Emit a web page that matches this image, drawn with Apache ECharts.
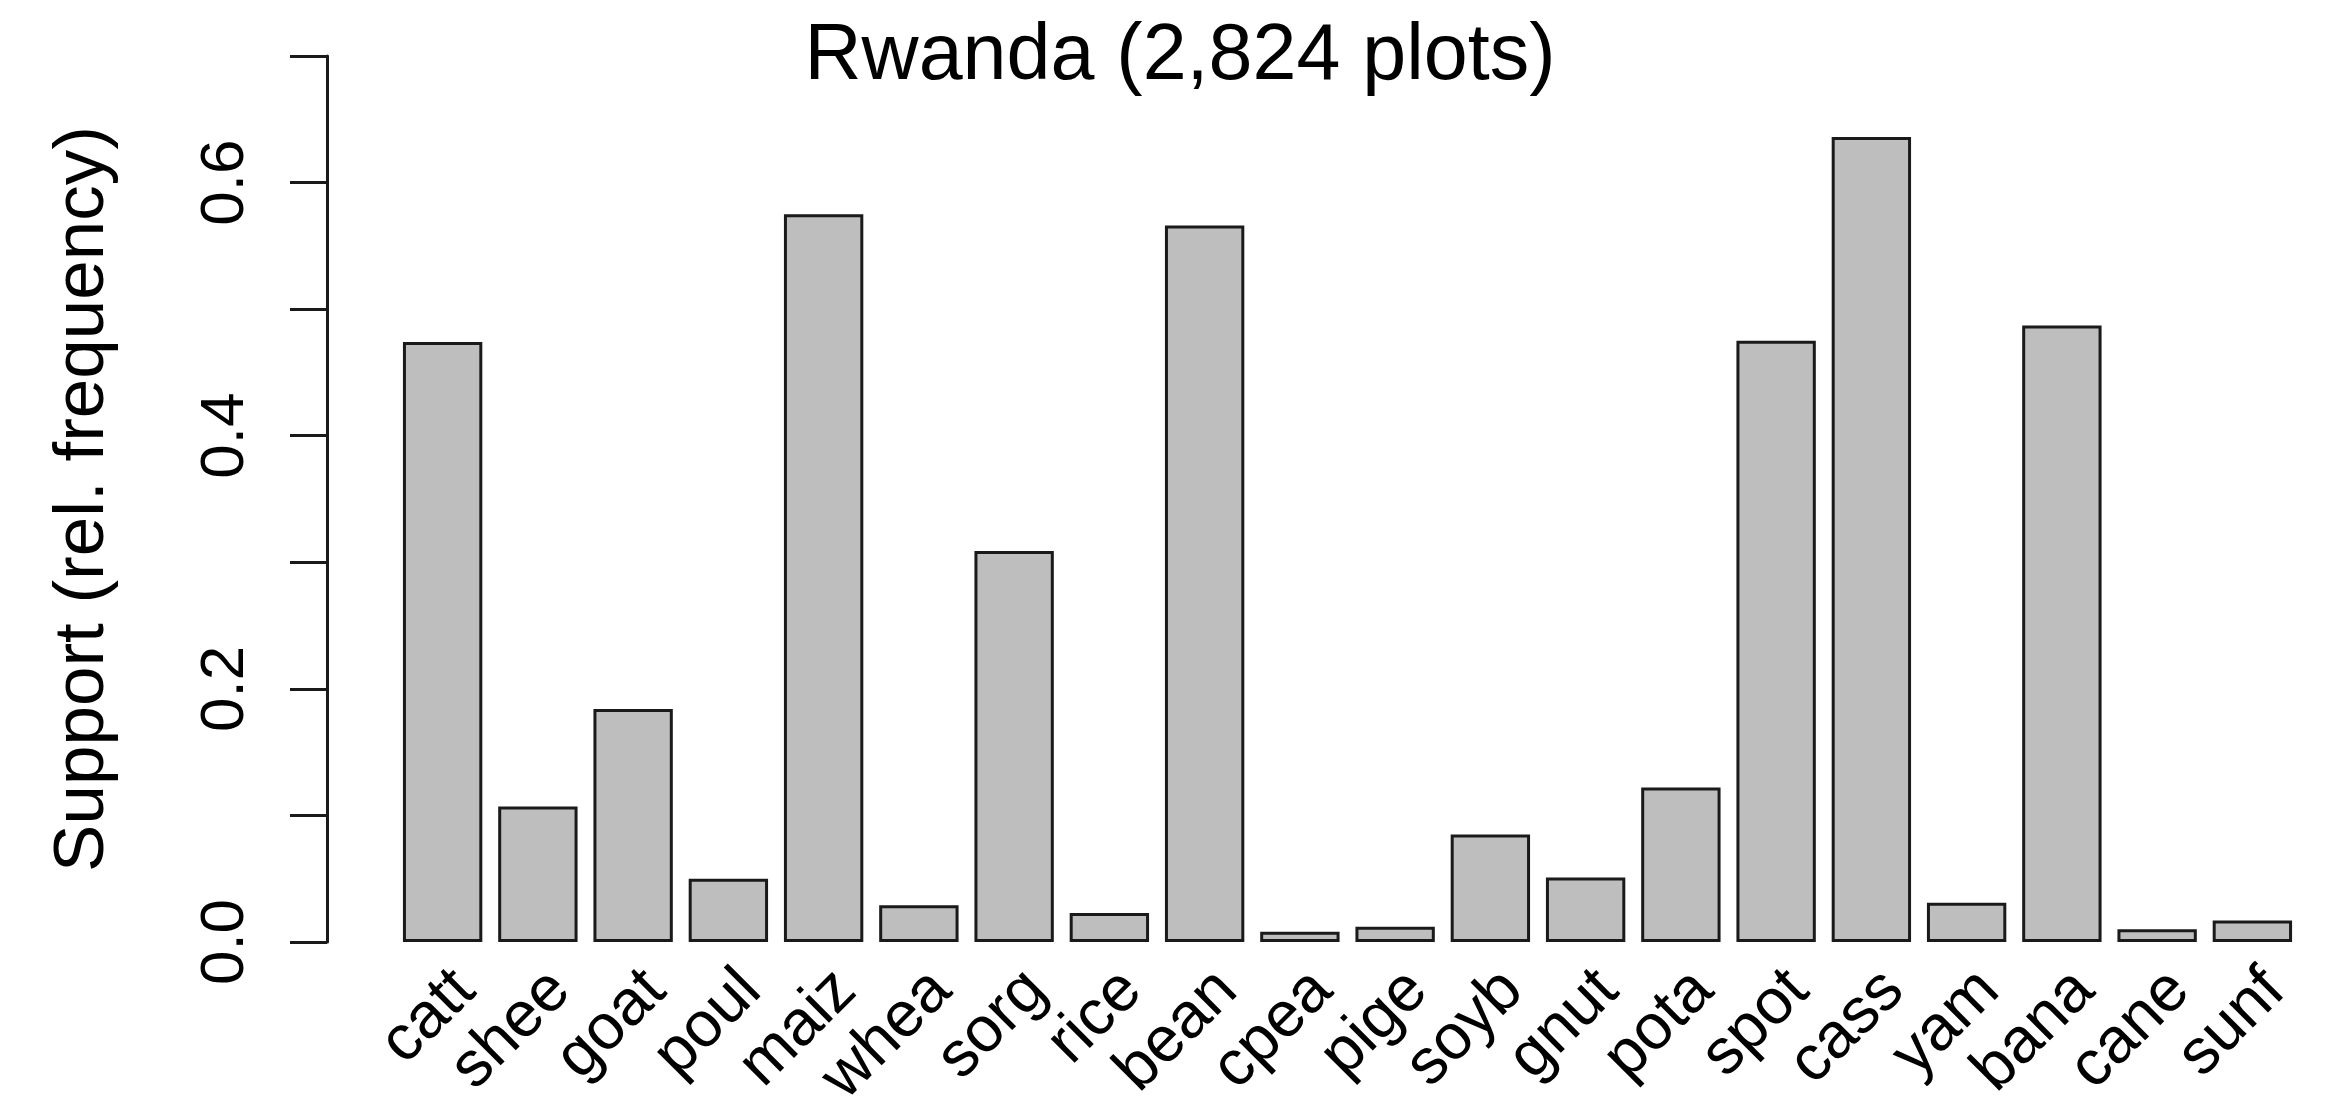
<!DOCTYPE html>
<html>
<head>
<meta charset="utf-8">
<title>Rwanda (2,824 plots)</title>
<script src="https://cdn.jsdelivr.net/npm/echarts@6/dist/echarts.min.js"></script>
<style>
  html, body { margin: 0; padding: 0; background: #ffffff; }
  #chart { width: 2326px; height: 1109px; }
</style>
</head>
<body>
<div id="chart"></div>
<script>
// Crop / livestock codes and their support (relative frequency across plots)
const categories = ['catt', 'shee', 'goat', 'poul', 'maiz', 'whea', 'sorg', 'rice', 'bean', 'cpea',
                    'pige', 'soyb', 'gnut', 'pota', 'spot', 'cass', 'yam', 'bana', 'cane', 'sunf'];
const support = [0.474, 0.107, 0.184, 0.050, 0.575, 0.029, 0.309, 0.023, 0.566, 0.008,
                 0.012, 0.085, 0.051, 0.122, 0.475, 0.636, 0.031, 0.487, 0.010, 0.017];
const yLabelledTicks = [0.0, 0.2, 0.4, 0.6];

const FONT = '"Liberation Sans", Helvetica, Arial, sans-serif';
const INK = '#1a1a1a';

const chart = echarts.init(document.getElementById('chart'), null, { renderer: 'canvas' });

chart.setOption({
  animation: false,
  backgroundColor: '#ffffff',
  title: {
    text: 'Rwanda (2,824 plots)',
    left: 1180,
    top: 18,
    padding: 0,
    textAlign: 'center',
    textStyle: { fontFamily: FONT, fontSize: 79, fontWeight: 'normal', color: '#000' }
  },
  grid: {
    left: 395, right: 26, top: 56, bottom: 167,
    containLabel: false,
    outerBoundsMode: 'none'
  },
  xAxis: {
    type: 'category',
    data: categories,
    axisLine: { show: false },
    axisTick: { show: false },
    axisLabel: {
      rotate: 45,
      margin: 16,
      interval: 0,
      align: 'right',
      verticalAlign: 'top',
      fontFamily: FONT,
      fontSize: 64,
      color: '#000'
    }
  },
  yAxis: {
    type: 'value',
    min: 0,
    max: 0.7,
    interval: 0.1,
    offset: 68,
    splitLine: { show: false },
    axisLine: { show: true, lineStyle: { color: INK, width: 3 } },
    axisTick: { show: true, length: 37, lineStyle: { color: INK, width: 3 } },
    axisLabel: {
      rotate: 90,
      margin: 70,
      fontFamily: FONT,
      fontSize: 62,
      color: '#000',
      formatter: function (v) {
        const hit = yLabelledTicks.find(function (t) { return Math.abs(t - v) < 1e-6; });
        return hit === undefined ? '' : hit.toFixed(1);
      }
    },
    name: 'Support (rel. frequency)',
    nameLocation: 'middle',
    nameRotate: 90,
    nameGap: 208,
    nameTextStyle: { fontFamily: FONT, fontSize: 71, color: '#000' }
  },
  series: [{
    type: 'bar',
    data: support,
    barCategoryGap: '16.67%',
    itemStyle: { color: '#bebebe', borderColor: INK, borderWidth: 3 }
  }]
});
</script>
</body>
</html>
